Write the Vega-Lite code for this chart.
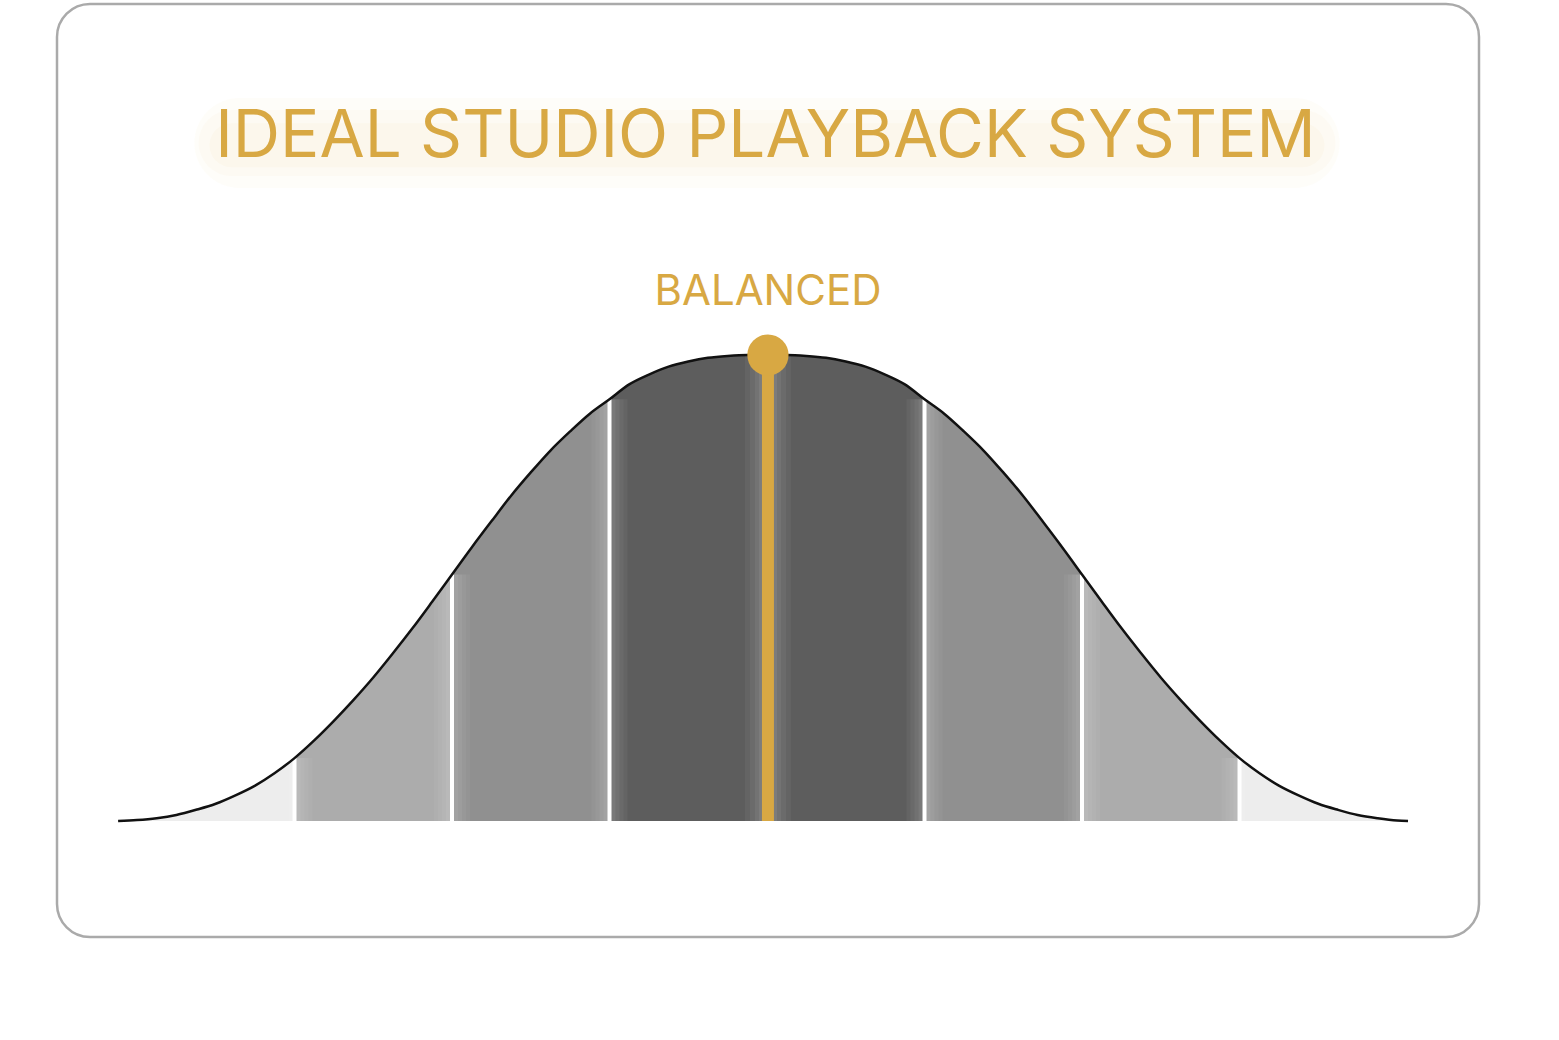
{
  "$schema": "https://vega.github.io/schema/vega-lite/v6.json",
  "autosize": "none",
  "padding": {"left": 57, "top": 4, "right": 80, "bottom": 103},
  "width": 1422,
  "height": 933,
  "background": "white",
  "config": {
    "view": {"stroke": "#aaaaaa", "strokeWidth": 2.5, "cornerRadius": 33, "fill": "white"},
    "font": "Inter"
  },
  "datasets": {
    "outline": [
      {"z": -4.12, "v": 0}, {"z": -4.0, "v": 0.002}, {"z": -3.875, "v": 0.006}, {"z": -3.75, "v": 0.013},
      {"z": -3.625, "v": 0.024}, {"z": -3.5, "v": 0.037}, {"z": -3.375, "v": 0.055}, {"z": -3.25, "v": 0.076},
      {"z": -3.125, "v": 0.103}, {"z": -3.0, "v": 0.135}, {"z": -2.875, "v": 0.173}, {"z": -2.75, "v": 0.215},
      {"z": -2.625, "v": 0.26}, {"z": -2.5, "v": 0.308}, {"z": -2.375, "v": 0.36}, {"z": -2.25, "v": 0.414},
      {"z": -2.125, "v": 0.471}, {"z": -2.0, "v": 0.529}, {"z": -1.875, "v": 0.587}, {"z": -1.75, "v": 0.643},
      {"z": -1.625, "v": 0.698}, {"z": -1.5, "v": 0.748}, {"z": -1.375, "v": 0.795}, {"z": -1.25, "v": 0.836},
      {"z": -1.125, "v": 0.874}, {"z": -1.0, "v": 0.905}, {"z": -0.875, "v": 0.937}, {"z": -0.75, "v": 0.958},
      {"z": -0.625, "v": 0.975}, {"z": -0.5, "v": 0.986}, {"z": -0.375, "v": 0.994}, {"z": -0.25, "v": 0.998},
      {"z": -0.125, "v": 1.0}, {"z": 0, "v": 1.0}, {"z": 0.125, "v": 1.0}, {"z": 0.25, "v": 0.998},
      {"z": 0.375, "v": 0.994}, {"z": 0.5, "v": 0.986}, {"z": 0.625, "v": 0.975}, {"z": 0.75, "v": 0.958},
      {"z": 0.875, "v": 0.937}, {"z": 1.0, "v": 0.905}, {"z": 1.125, "v": 0.874}, {"z": 1.25, "v": 0.836},
      {"z": 1.375, "v": 0.795}, {"z": 1.5, "v": 0.748}, {"z": 1.625, "v": 0.698}, {"z": 1.75, "v": 0.643},
      {"z": 1.875, "v": 0.587}, {"z": 2.0, "v": 0.529}, {"z": 2.125, "v": 0.471}, {"z": 2.25, "v": 0.414},
      {"z": 2.375, "v": 0.36}, {"z": 2.5, "v": 0.308}, {"z": 2.625, "v": 0.26}, {"z": 2.75, "v": 0.215},
      {"z": 2.875, "v": 0.173}, {"z": 3.0, "v": 0.135}, {"z": 3.125, "v": 0.103}, {"z": 3.25, "v": 0.076},
      {"z": 3.375, "v": 0.055}, {"z": 3.5, "v": 0.037}, {"z": 3.625, "v": 0.024}, {"z": 3.75, "v": 0.013},
      {"z": 3.875, "v": 0.006}, {"z": 4.0, "v": 0.001}, {"z": 4.07, "v": 0}
    ],
    "bands": [
      {"z": -4.12, "v": 0, "band": "outer", "side": "L"}, {"z": -4.0, "v": 0.002, "band": "outer", "side": "L"},
      {"z": -3.875, "v": 0.006, "band": "outer", "side": "L"}, {"z": -3.75, "v": 0.013, "band": "outer", "side": "L"},
      {"z": -3.625, "v": 0.024, "band": "outer", "side": "L"}, {"z": -3.5, "v": 0.037, "band": "outer", "side": "L"},
      {"z": -3.375, "v": 0.055, "band": "outer", "side": "L"}, {"z": -3.25, "v": 0.076, "band": "outer", "side": "L"},
      {"z": -3.125, "v": 0.103, "band": "outer", "side": "L"}, {"z": -3.0, "v": 0.135, "band": "outer", "side": "L"},
      {"z": -3.0, "v": 0.135, "band": "mid", "side": "L"}, {"z": -2.875, "v": 0.173, "band": "mid", "side": "L"},
      {"z": -2.75, "v": 0.215, "band": "mid", "side": "L"}, {"z": -2.625, "v": 0.26, "band": "mid", "side": "L"},
      {"z": -2.5, "v": 0.308, "band": "mid", "side": "L"}, {"z": -2.375, "v": 0.36, "band": "mid", "side": "L"},
      {"z": -2.25, "v": 0.414, "band": "mid", "side": "L"}, {"z": -2.125, "v": 0.471, "band": "mid", "side": "L"},
      {"z": -2.0, "v": 0.529, "band": "mid", "side": "L"},
      {"z": -2.0, "v": 0.529, "band": "inner", "side": "L"}, {"z": -1.875, "v": 0.587, "band": "inner", "side": "L"},
      {"z": -1.75, "v": 0.643, "band": "inner", "side": "L"}, {"z": -1.625, "v": 0.698, "band": "inner", "side": "L"},
      {"z": -1.5, "v": 0.748, "band": "inner", "side": "L"}, {"z": -1.375, "v": 0.795, "band": "inner", "side": "L"},
      {"z": -1.25, "v": 0.836, "band": "inner", "side": "L"}, {"z": -1.125, "v": 0.874, "band": "inner", "side": "L"},
      {"z": -1.0, "v": 0.905, "band": "inner", "side": "L"},
      {"z": -1.0, "v": 0.905, "band": "core", "side": "C"}, {"z": -0.875, "v": 0.937, "band": "core", "side": "C"},
      {"z": -0.75, "v": 0.958, "band": "core", "side": "C"}, {"z": -0.625, "v": 0.975, "band": "core", "side": "C"},
      {"z": -0.5, "v": 0.986, "band": "core", "side": "C"}, {"z": -0.375, "v": 0.994, "band": "core", "side": "C"},
      {"z": -0.25, "v": 0.998, "band": "core", "side": "C"}, {"z": -0.125, "v": 1.0, "band": "core", "side": "C"},
      {"z": 0, "v": 1.0, "band": "core", "side": "C"}, {"z": 0.125, "v": 1.0, "band": "core", "side": "C"},
      {"z": 0.25, "v": 0.998, "band": "core", "side": "C"}, {"z": 0.375, "v": 0.994, "band": "core", "side": "C"},
      {"z": 0.5, "v": 0.986, "band": "core", "side": "C"}, {"z": 0.625, "v": 0.975, "band": "core", "side": "C"},
      {"z": 0.75, "v": 0.958, "band": "core", "side": "C"}, {"z": 0.875, "v": 0.937, "band": "core", "side": "C"},
      {"z": 1.0, "v": 0.905, "band": "core", "side": "C"},
      {"z": 1.0, "v": 0.905, "band": "inner", "side": "R"}, {"z": 1.125, "v": 0.874, "band": "inner", "side": "R"},
      {"z": 1.25, "v": 0.836, "band": "inner", "side": "R"}, {"z": 1.375, "v": 0.795, "band": "inner", "side": "R"},
      {"z": 1.5, "v": 0.748, "band": "inner", "side": "R"}, {"z": 1.625, "v": 0.698, "band": "inner", "side": "R"},
      {"z": 1.75, "v": 0.643, "band": "inner", "side": "R"}, {"z": 1.875, "v": 0.587, "band": "inner", "side": "R"},
      {"z": 2.0, "v": 0.529, "band": "inner", "side": "R"},
      {"z": 2.0, "v": 0.529, "band": "mid", "side": "R"}, {"z": 2.125, "v": 0.471, "band": "mid", "side": "R"},
      {"z": 2.25, "v": 0.414, "band": "mid", "side": "R"}, {"z": 2.375, "v": 0.36, "band": "mid", "side": "R"},
      {"z": 2.5, "v": 0.308, "band": "mid", "side": "R"}, {"z": 2.625, "v": 0.26, "band": "mid", "side": "R"},
      {"z": 2.75, "v": 0.215, "band": "mid", "side": "R"}, {"z": 2.875, "v": 0.173, "band": "mid", "side": "R"},
      {"z": 3.0, "v": 0.135, "band": "mid", "side": "R"},
      {"z": 3.0, "v": 0.135, "band": "outer", "side": "R"}, {"z": 3.125, "v": 0.103, "band": "outer", "side": "R"},
      {"z": 3.25, "v": 0.076, "band": "outer", "side": "R"}, {"z": 3.375, "v": 0.055, "band": "outer", "side": "R"},
      {"z": 3.5, "v": 0.037, "band": "outer", "side": "R"}, {"z": 3.625, "v": 0.024, "band": "outer", "side": "R"},
      {"z": 3.75, "v": 0.013, "band": "outer", "side": "R"}, {"z": 3.875, "v": 0.006, "band": "outer", "side": "R"},
      {"z": 4.0, "v": 0.001, "band": "outer", "side": "R"}, {"z": 4.07, "v": 0, "band": "outer", "side": "R"}
    ],
    "dividers": [
      {"z": -3, "v": 0.135},
      {"z": -2, "v": 0.529},
      {"z": -1, "v": 0.905},
      {"z": 1, "v": 0.905},
      {"z": 2, "v": 0.529},
      {"z": 3, "v": 0.135}
    ],
    "peak": [{"z": 0.006, "v": 1.0, "label": "BALANCED"}],
    "heading": [{"z": -0.01, "label": "IDEAL STUDIO PLAYBACK SYSTEM"}]
  },
  "encoding": {
    "x": {"field": "z", "type": "quantitative", "scale": {"domain": [-4.508, 4.5206], "nice": false, "zero": false}, "axis": null}
  },
  "layer": [
    {
      "data": {"name": "bands"},
      "mark": {"type": "area", "interpolate": "monotone"},
      "encoding": {
        "y": {"field": "v", "type": "quantitative", "stack": null, "scale": {"domain": [-0.2489, 1.7532], "nice": false, "zero": false}, "axis": null},
        "detail": {"field": "side"},
        "color": {"field": "band", "type": "nominal", "legend": null,
          "scale": {"domain": ["outer", "mid", "inner", "core"], "range": ["#ededed", "#acacac", "#909090", "#5d5d5d"]}}
      }
    },
    {
      "data": {"name": "heading"},
      "mark": {"type": "rule", "color": "#f3dfb0", "strokeWidth": 90, "opacity": 0.07, "strokeCap": "round"},
      "encoding": {"x": {"datum": -3.35}, "x2": {"datum": 3.35}, "y": {"datum": 1.455}}
    },
    {
      "data": {"name": "heading"},
      "mark": {"type": "rule", "color": "#f3dfb0", "strokeWidth": 66, "opacity": 0.08, "strokeCap": "round"},
      "encoding": {"x": {"datum": -3.4}, "x2": {"datum": 3.4}, "y": {"datum": 1.455}}
    },
    {
      "data": {"name": "heading"},
      "mark": {"type": "rule", "color": "#f3dfb0", "strokeWidth": 44, "opacity": 0.1, "strokeCap": "round"},
      "encoding": {"x": {"datum": -3.4}, "x2": {"datum": 3.4}, "y": {"datum": 1.45}}
    },
    {
      "data": {"name": "dividers"},
      "mark": {"type": "rule", "color": "white", "strokeWidth": 36, "opacity": 0.045},
      "encoding": {"y": {"field": "v", "type": "quantitative"}, "y2": {"datum": 0}}
    },
    {
      "data": {"name": "dividers"},
      "mark": {"type": "rule", "color": "white", "strokeWidth": 28, "opacity": 0.045},
      "encoding": {"y": {"field": "v", "type": "quantitative"}, "y2": {"datum": 0}}
    },
    {
      "data": {"name": "dividers"},
      "mark": {"type": "rule", "color": "white", "strokeWidth": 20, "opacity": 0.05},
      "encoding": {"y": {"field": "v", "type": "quantitative"}, "y2": {"datum": 0}}
    },
    {
      "data": {"name": "dividers"},
      "mark": {"type": "rule", "color": "white", "strokeWidth": 12, "opacity": 0.06},
      "encoding": {"y": {"field": "v", "type": "quantitative"}, "y2": {"datum": 0}}
    },
    {
      "data": {"name": "dividers"},
      "mark": {"type": "rule", "color": "white", "strokeWidth": 4},
      "encoding": {"y": {"field": "v", "type": "quantitative"}, "y2": {"datum": 0}}
    },
    {
      "data": {"name": "peak"},
      "mark": {"type": "rule", "color": "white", "strokeWidth": 46, "opacity": 0.045},
      "encoding": {"y": {"field": "v", "type": "quantitative"}, "y2": {"datum": 0}}
    },
    {
      "data": {"name": "peak"},
      "mark": {"type": "rule", "color": "white", "strokeWidth": 36, "opacity": 0.05},
      "encoding": {"y": {"field": "v", "type": "quantitative"}, "y2": {"datum": 0}}
    },
    {
      "data": {"name": "peak"},
      "mark": {"type": "rule", "color": "white", "strokeWidth": 26, "opacity": 0.06},
      "encoding": {"y": {"field": "v", "type": "quantitative"}, "y2": {"datum": 0}}
    },
    {
      "data": {"name": "peak"},
      "mark": {"type": "rule", "color": "white", "strokeWidth": 18, "opacity": 0.07},
      "encoding": {"y": {"field": "v", "type": "quantitative"}, "y2": {"datum": 0}}
    },
    {
      "data": {"name": "outline"},
      "mark": {"type": "line", "interpolate": "monotone", "color": "#111111", "strokeWidth": 2.5},
      "encoding": {"y": {"field": "v", "type": "quantitative"}, "order": {"field": "z"}}
    },
    {
      "data": {"name": "peak"},
      "mark": {"type": "rule", "color": "#d8a843", "strokeWidth": 12},
      "encoding": {"y": {"field": "v", "type": "quantitative"}, "y2": {"datum": 0}}
    },
    {
      "data": {"name": "peak"},
      "mark": {"type": "point", "filled": true, "opacity": 1, "color": "#d8a843", "size": 1700},
      "encoding": {"y": {"field": "v", "type": "quantitative"}}
    },
    {
      "data": {"name": "peak"},
      "mark": {"type": "text", "color": "#d8a843", "fontSize": 42, "baseline": "alphabetic", "align": "center", "letterSpacing": 1},
      "encoding": {"y": {"datum": 1.107}, "text": {"field": "label"}}
    },
    {
      "data": {"name": "heading"},
      "mark": {"type": "text", "color": "#d8a843", "fontSize": 65.5, "baseline": "alphabetic", "align": "center"},
      "encoding": {"y": {"datum": 1.425}, "text": {"field": "label"}}
    }
  ]
}
